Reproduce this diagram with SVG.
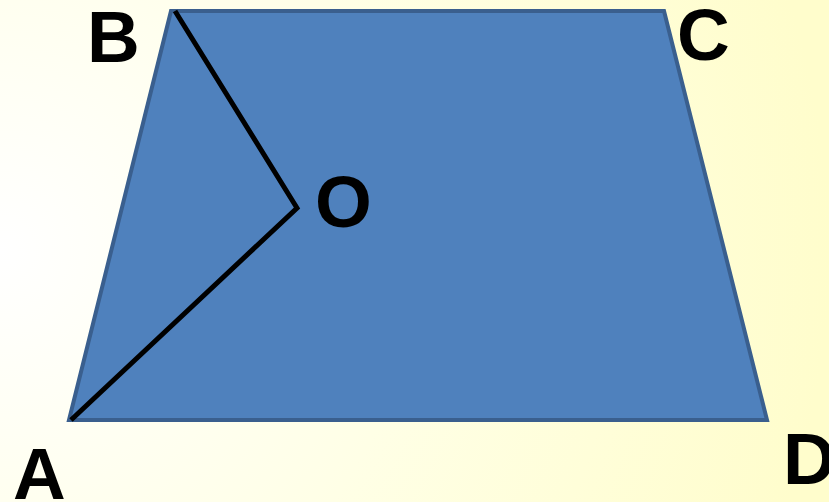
<svg xmlns="http://www.w3.org/2000/svg" width="829" height="502" viewBox="0 0 829 502">
  <defs>
    <radialGradient id="bg" gradientUnits="userSpaceOnUse" cx="0" cy="250" r="830">
      <stop offset="0" stop-color="#FFFFFF"/>
      <stop offset="0.5" stop-color="#FFFFE6"/>
      <stop offset="1" stop-color="#FFFDCC"/>
    </radialGradient>
    <style>
      .lbl { font-family: "Liberation Sans", Arial, sans-serif; font-weight: bold; font-size: 73px; fill: #000000; }
      .seg { stroke: #000000; stroke-width: 5; fill: none; stroke-linecap: butt; }
    </style>
  </defs>
  <rect x="0" y="0" width="829" height="502" fill="url(#bg)"/>
  <g id="trapezoid">
    <polygon points="171,11 664,11 767,420 69,420" fill="#4F81BD" stroke="#3A5F8E" stroke-width="4" stroke-linejoin="miter"/>
  </g>
  <g id="connectors">
    <polyline class="seg" points="175,11 297,208 71,420"/>
  </g>
  <g id="label-B"><text class="lbl" x="87" y="62">B</text></g>
  <g id="label-C"><text class="lbl" x="677" y="60">C</text></g>
  <g id="label-O"><text class="lbl" x="315" y="227">O</text></g>
  <g id="label-A"><text class="lbl" x="13" y="499">A</text></g>
  <g id="label-D"><text class="lbl" x="783" y="484">D</text></g>
</svg>
